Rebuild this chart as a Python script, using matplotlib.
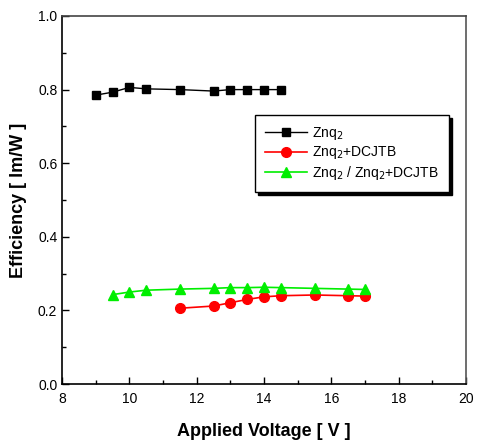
import matplotlib
matplotlib.use("Agg")
import matplotlib.pyplot as plt
from matplotlib.ticker import MultipleLocator

plt.rcParams['font.family'] = ['Liberation Sans', 'DejaVu Sans']

# Znq2
v_znq = [9.0, 9.5, 10.0, 10.5, 11.5, 12.5, 13.0, 13.5, 14.0, 14.5]
e_znq = [0.785, 0.793, 0.806, 0.802, 0.800, 0.796, 0.800, 0.800, 0.800, 0.800]

# Znq2+DCJTB
v_dcjtb = [11.5, 12.5, 13.0, 13.5, 14.0, 14.5, 15.5, 16.5, 17.0]
e_dcjtb = [0.206, 0.212, 0.221, 0.230, 0.237, 0.240, 0.242, 0.240, 0.239]

# Znq2 / Znq2+DCJTB
v_dual = [9.5, 10.0, 10.5, 11.5, 12.5, 13.0, 13.5, 14.0, 14.5, 15.5, 16.5, 17.0]
e_dual = [0.243, 0.250, 0.255, 0.258, 0.260, 0.262, 0.262, 0.263, 0.262, 0.260, 0.258, 0.257]

labels = ['Znq$_2$', 'Znq$_2$+DCJTB', 'Znq$_2$ / Znq$_2$+DCJTB']

fig = plt.figure(figsize=(4.78, 4.44), dpi=100)
ax = fig.add_axes([0.130, 0.135, 0.845, 0.829])

ax.plot(v_znq, e_znq, '-s', color='black', markersize=6, linewidth=1, label=labels[0])
ax.plot(v_dcjtb, e_dcjtb, '-o', color='red', markersize=7, linewidth=1.2, label=labels[1])
ax.plot(v_dual, e_dual, '-^', color='#00ee00', markersize=7, linewidth=1.2, label=labels[2])

ax.set_xlim(8, 20)
ax.set_ylim(0, 1.0)
ax.xaxis.set_major_locator(MultipleLocator(2))
ax.xaxis.set_minor_locator(MultipleLocator(1))
ax.yaxis.set_major_locator(MultipleLocator(0.2))
ax.yaxis.set_minor_locator(MultipleLocator(0.1))
ax.yaxis.set_major_formatter(matplotlib.ticker.FormatStrFormatter('%.1f'))
ax.tick_params(which='both', direction='in', top=False, right=False, labelsize=10)
ax.tick_params(which='major', length=5, width=1)
ax.tick_params(which='minor', length=3, width=1)
ax.tick_params(axis='x', pad=6)
for s in ax.spines.values():
    s.set_linewidth(1.2)
ax.spines['top'].set_color('#444444')
ax.spines['right'].set_color('#555555')

ax.set_xlabel('Applied Voltage [ V ]', fontsize=13, fontweight='bold', labelpad=12)
ax.set_ylabel('Efficiency [ lm/W ]', fontsize=13, fontweight='bold', labelpad=8)

leg = ax.legend(loc='upper left', bbox_to_anchor=(0.478, 0.731), fontsize=10,
                fancybox=False, shadow={'color': 'black', 'alpha': 1}, framealpha=1,
                edgecolor='black', handlelength=3.0, handletextpad=0.4,
                borderpad=0.7, labelspacing=0.2, borderaxespad=0)
leg.get_frame().set_linewidth(1)

fig.savefig('out.png', dpi=100)
